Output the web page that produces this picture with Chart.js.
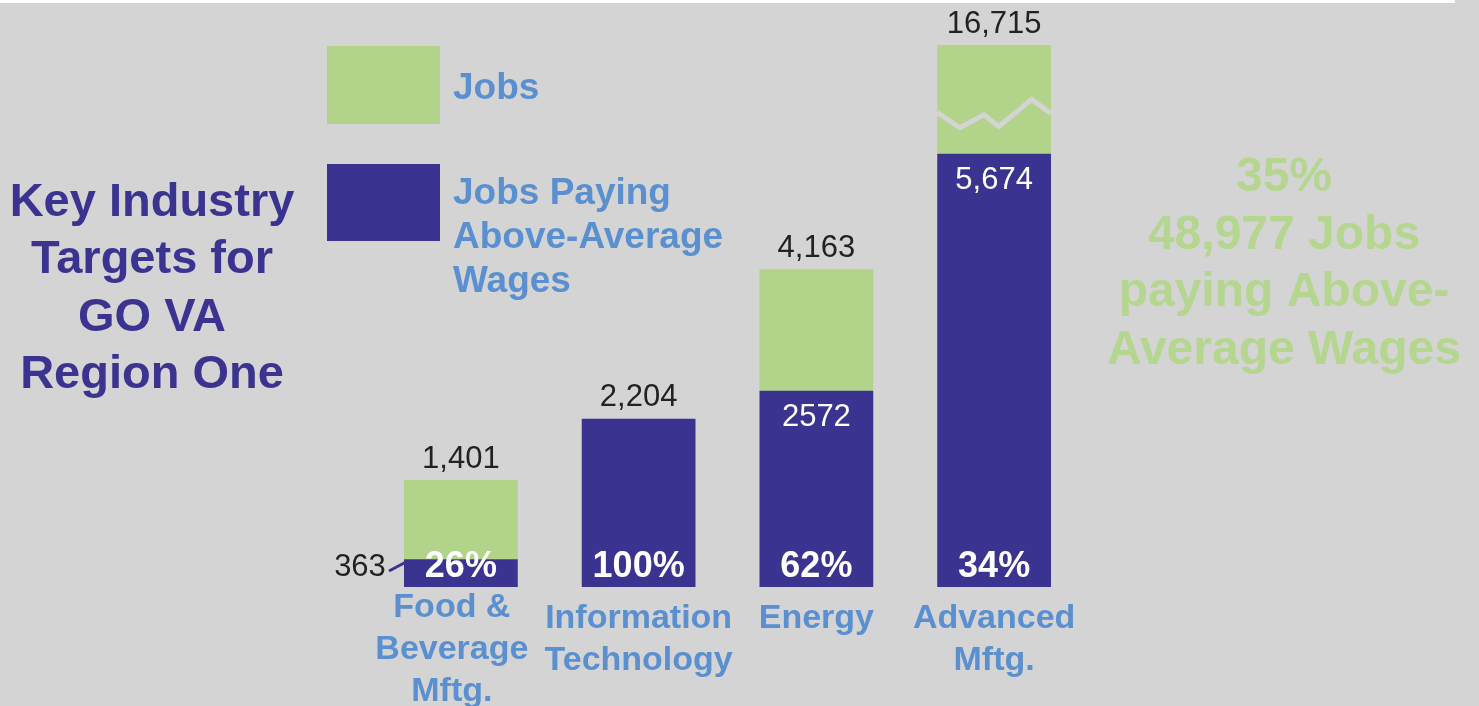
<!DOCTYPE html>
<html>
<head>
<meta charset="utf-8">
<script src="https://cdn.jsdelivr.net/npm/chart.js@4.4.0/dist/chart.umd.min.js"></script>
<style>
  html, body { margin: 0; padding: 0; background: #d4d4d4; overflow: hidden; }
  #topband { position: absolute; left: 0; top: 0; width: 1455px; height: 3px; background: #ffffff; }
  #wrap { position: absolute; left: 0; top: 0; width: 1479px; height: 706px; }
</style>
</head>
<body>
<div id="wrap"><canvas id="jobsChart" width="1479" height="706"></canvas></div>
<div id="topband"></div>
<script>
// ============================
// Data
// ============================
const categories = [["Food &", "Beverage", "Mftg."], ["Information", "Technology"], ["Energy"], ["Advanced", "Mftg."]];
const totalJobs = [1401, 2204, 4163, 16715];
const aboveAvgJobs = [363, 2204, 2572, 5674];
const totalLabels = ["1,401", "2,204", "4,163", "16,715"];
const aboveLabels = ["363", "", "2572", "5,674"];
const pctLabels = ["26%", "100%", "62%", "34%"];
const legendLabels = [["Jobs"], ["Jobs Paying", "Above-Average", "Wages"]];
const titleLines = ["Key Industry", "Targets for", "GO VA", "Region One"];
const summaryLines = ["35%", "48,977 Jobs", "paying Above-", "Average Wages"];

const restJobs = totalJobs.map((t, i) => t - aboveAvgJobs[i]);

const GREEN = "#b2d38a";
const NAVY = "#3a3390";
const BLUE = "#5a8fd0";
const LIGHTGREEN = "#b5d68f";
const FONT = "'Liberation Sans', Arial, Helvetica, sans-serif";

// ============================
// Annotations plugin
// ============================
const annotations = {
  id: "annotations",
  afterDatasetsDraw(chart) {
    const ctx = chart.ctx;
    const area = chart.chartArea;
    const navyMeta = chart.getDatasetMeta(0);
    const greenMeta = chart.getDatasetMeta(1);
    ctx.save();
    ctx.textAlign = "center";
    ctx.textBaseline = "middle";

    navyMeta.data.forEach((bar, i) => {
      const g = greenMeta.data[i];
      const base = bar.base;
      const left = bar.x - bar.width / 2;

      // axis break on the clipped bar
      if (g.y < area.top) {
        const top = area.top, span = bar.y - area.top;
        const pts = [[0, 0.62], [0.2, 0.76], [0.41, 0.64], [0.54, 0.75], [0.83, 0.5], [1, 0.63]];
        ctx.strokeStyle = "#d4d4d4";
        ctx.lineWidth = 5;
        ctx.beginPath();
        pts.forEach((p, k) => {
          const px = left + p[0] * bar.width, py = top + p[1] * span;
          if (k === 0) ctx.moveTo(px, py); else ctx.lineTo(px, py);
        });
        ctx.stroke();
      }

      // totals above
      const topY = Math.max(Math.min(g.y, bar.y), area.top);
      ctx.fillStyle = "#222222";
      ctx.font = "31px " + FONT;
      ctx.fillText(totalLabels[i], bar.x, topY - 21);

      // above-average count
      if (aboveLabels[i]) {
        if (i === 0) {
          ctx.fillStyle = "#222222";
          ctx.fillText(aboveLabels[i], left - 44, base - 20);
          ctx.strokeStyle = NAVY;
          ctx.lineWidth = 3;
          ctx.beginPath();
          ctx.moveTo(left - 15, base - 16);
          ctx.lineTo(left + 2, base - 25);
          ctx.stroke();
        } else {
          ctx.fillStyle = "#ffffff";
          ctx.fillText(aboveLabels[i], bar.x, bar.y + 27);
        }
      }

      // percent
      ctx.fillStyle = "#ffffff";
      ctx.font = "bold 36px " + FONT;
      ctx.fillText(pctLabels[i], bar.x, base - 20);

      // category labels
      ctx.fillStyle = BLUE;
      ctx.font = "bold 34px " + FONT;
      const lines = categories[i];
      const start = lines.length === 3 ? base + 21 : base + 32;
      lines.forEach((ln, k) => ctx.fillText(ln, bar.x - (i === 0 ? 9 : 0), start + k * 42));
    });

    // legend
    ctx.fillStyle = GREEN;
    ctx.fillRect(327, 46, 113, 78);
    ctx.fillStyle = NAVY;
    ctx.fillRect(327, 164, 113, 77);
    ctx.textAlign = "left";
    ctx.fillStyle = BLUE;
    ctx.font = "bold 37px " + FONT;
    ctx.fillText(legendLabels[0][0], 453, 89);
    legendLabels[1].forEach((ln, k) => ctx.fillText(ln, 453, 194 + k * 44));

    // title
    ctx.textAlign = "center";
    ctx.fillStyle = "#3a338f";
    ctx.font = "bold 47px " + FONT;
    titleLines.forEach((ln, k) => ctx.fillText(ln, 152, 203 + k * 57.5));

    // summary
    ctx.fillStyle = LIGHTGREEN;
    ctx.font = "bold 48px " + FONT;
    summaryLines.forEach((ln, k) => ctx.fillText(ln, 1284, 178 + k * 57.5));

    ctx.restore();
  }
};

// ============================
// Chart
// ============================
new Chart(document.getElementById("jobsChart"), {
  type: "bar",
  data: {
    labels: categories.map(c => c.join(" ")),
    datasets: [
      { label: "Jobs Paying Above-Average Wages", data: aboveAvgJobs, backgroundColor: NAVY },
      { label: "Jobs", data: restJobs, backgroundColor: GREEN }
    ]
  },
  options: {
    responsive: false,
    animation: false,
    events: [],
    layout: { padding: { left: 372, right: 396, top: 45, bottom: 119 } },
    datasets: { bar: { categoryPercentage: 1, barPercentage: 0.64, borderWidth: 0 } },
    scales: {
      x: { stacked: true, display: false },
      y: { stacked: true, display: false, min: 0, max: 7100 }
    },
    plugins: { legend: { display: false }, tooltip: { enabled: false } }
  },
  plugins: [annotations]
});
</script>
</body>
</html>
